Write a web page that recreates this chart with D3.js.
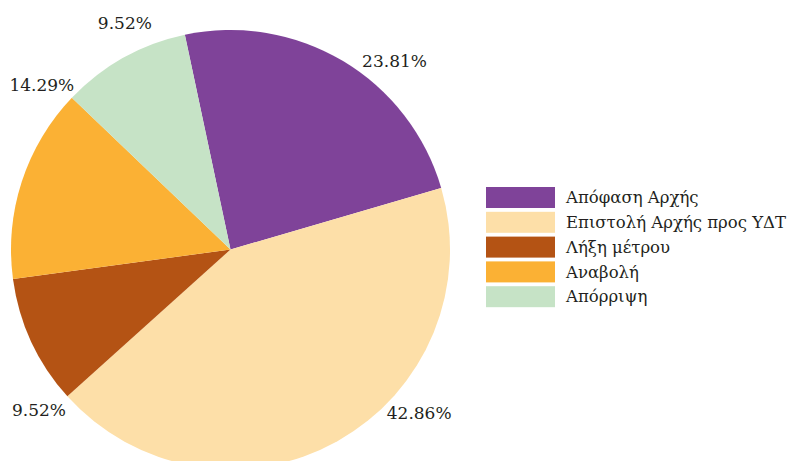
<!DOCTYPE html>
<html>
<head>
<meta charset="utf-8">
<script src="https://cdn.jsdelivr.net/npm/d3@7"></script>
<style>
  body { margin: 0; background: #fff; }
  svg { display: block; }
  text { font-family: "DejaVu Serif", serif; }
</style>
</head>
<body>
<svg width="800" height="461"></svg>
<script>
// data
var categories = ["Απόφαση Αρχής", "Επιστολή Αρχής προς ΥΔΤ", "Λήξη μέτρου", "Αναβολή", "Απόρριψη"];
var counts = [5, 9, 2, 3, 2];
var colors = ["#7f4399", "#fddfa8", "#b45314", "#fbb134", "#c6e3c6"];

// where each percentage label sits (degrees clockwise from top)
var labelAngles = [41, 131, 230, 311, 335];

var svg = d3.select("svg"),
    width = +svg.attr("width"),
    height = +svg.attr("height");

var cx = 230.5, cy = 249.5, radius = 219.5;
var total = d3.sum(counts);
var format = d3.format(".2f");
var rad = Math.PI / 180;

var pie = d3.pie()
    .sort(null)
    .startAngle(-12 * rad)
    .endAngle(348 * rad)
    .value(function(d) { return d; });

var arc = d3.arc()
    .innerRadius(0)
    .outerRadius(radius);

var g = svg.append("g")
    .attr("transform", "translate(" + cx + "," + cy + ")");

var arcs = pie(counts);

g.selectAll("path")
    .data(arcs)
    .enter().append("path")
    .attr("d", arc)
    .style("fill", function(d, i) { return colors[i]; });

g.selectAll("text.pct")
    .data(arcs)
    .enter().append("text")
    .attr("class", "pct")
    .attr("x", function(d, i) { return 250 * Math.sin(labelAngles[i] * rad); })
    .attr("y", function(d, i) { return -250 * Math.cos(labelAngles[i] * rad); })
    .attr("dy", "0.35em")
    .attr("text-anchor", "middle")
    .style("font-size", "17px")
    .style("fill", "#231f20")
    .text(function(d) { return format(d.data / total * 100) + "%"; });

// legend
var legend = svg.append("g")
    .attr("transform", "translate(486,187)");

var item = legend.selectAll("g")
    .data(categories)
    .enter().append("g")
    .attr("transform", function(d, i) { return "translate(0," + (i * 24.8) + ")"; });

item.append("rect")
    .attr("width", 69)
    .attr("height", 21)
    .style("fill", function(d, i) { return colors[i]; });

item.append("text")
    .attr("x", 80)
    .attr("y", 10.5)
    .attr("dy", "0.35em")
    .style("font-size", "16.5px")
    .style("fill", "#231f20")
    .text(function(d) { return d; });
</script>
</body>
</html>
